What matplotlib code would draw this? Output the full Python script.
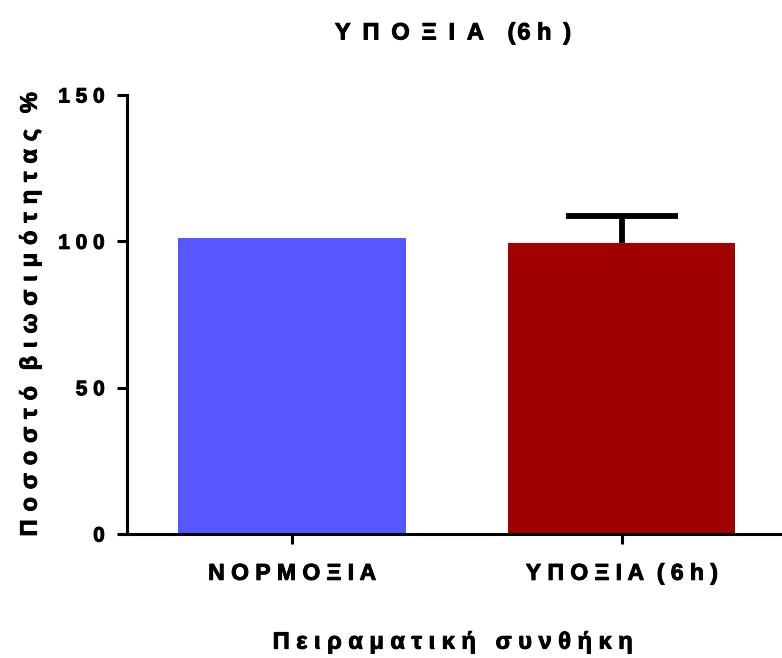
import matplotlib.pyplot as plt
import matplotlib.patheffects as pe
import numpy as np

plt.rcParams['font.family'] = ['Liberation Sans', 'DejaVu Sans']
plt.rcParams['font.weight'] = 'bold'

categories = ['ΝΟΡΜΟΞΙΑ', 'ΥΠΟΞΙΑ (6h)']
values = [101.1, 99.4]
errors = [0, 9.2]
colors = ['#5757FF', '#A10000']
yticks = [0, 50, 100, 150]
title = 'ΥΠΟΞΙΑ (6h)'
xlabel = 'Πειραματική συνθήκη'
ylabel = 'Ποσοστό βιωσιμότητας %'


def spaced(s, sep=' ', word_sep='  '):
    # GraphPad style letter spacing
    return word_sep.join(sep.join(w) for w in s.split(' '))


heavy = [pe.withStroke(linewidth=0.7, foreground='black')]

fig = plt.figure(figsize=(7.82, 6.58), dpi=100)
ax = fig.add_axes([0.1624, 0.1884, 0.835, 0.6672])

x = np.arange(len(categories))
ax.bar(x, values, width=0.69, color=colors, zorder=2)
ax.errorbar(x[1], values[1], yerr=errors[1], fmt='none',
            ecolor='black', elinewidth=4.2, capsize=40, capthick=4.2, zorder=1)

ax.set_xlim(-0.5, 1.48)
ax.set_ylim(0, 150)
ax.set_xticks(x)
ax.set_xticklabels([spaced(c) for c in categories], fontsize=16.5, fontweight='bold')
ax.set_yticks(yticks)
ax.set_yticklabels([spaced(str(t)) for t in yticks], fontsize=15, fontweight='bold')
for lab in ax.get_xticklabels() + ax.get_yticklabels():
    lab.set_path_effects(heavy)

for s in ['top', 'right']:
    ax.spines[s].set_visible(False)
for s in ['left', 'bottom']:
    ax.spines[s].set_linewidth(2.2)
ax.tick_params(axis='both', width=2.2, length=7)
ax.tick_params(axis='x', pad=13)
ax.tick_params(axis='y', pad=9)

t = ax.set_title(spaced(title, '\u2002', '\u2003').replace('(\u20026', '(\u200a6').replace('6\u2002h', '6 h'),
                 fontsize=17, fontweight='bold', pad=40)
t.set_path_effects(heavy)
xl = ax.set_xlabel(spaced(xlabel, ' ', '   '), fontsize=17, fontweight='bold', labelpad=33)
xl.set_path_effects(heavy)
yl = ax.set_ylabel(spaced(ylabel, '\u2004', '\u2004\u2004'), fontsize=17, fontweight='bold', labelpad=12)
yl.set_path_effects(heavy)

fig.savefig('out.png', dpi=100)
